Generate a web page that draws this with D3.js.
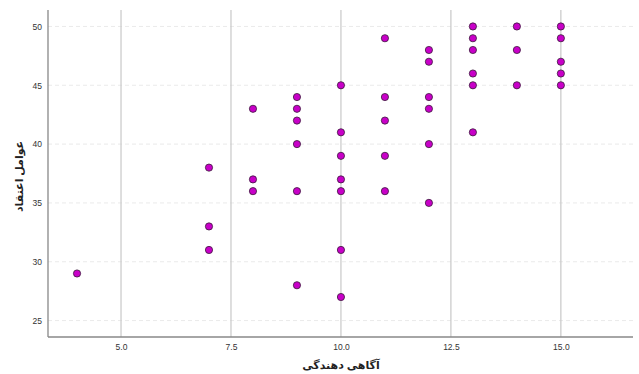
<!DOCTYPE html>
<html><head><meta charset="utf-8">
<script src="https://cdn.jsdelivr.net/npm/d3@7"></script>
<style>body{margin:0;background:#fff}svg{display:block}</style>
</head><body><svg id="c" width="639" height="374"></svg>
<script>
const xVals = [4, 7,7,7, 8,8,8, 9,9,9,9,9,9, 10,10,10,10,10,10,10, 11,11,11,11,11, 12,12,12,12,12,12, 13,13,13,13,13,13, 14,14,14, 15,15,15,15,15];
const yVals = [29, 38,33,31, 43,37,36, 44,43,42,40,36,28, 45,41,39,37,36,31,27, 49,44,42,39,36, 48,47,44,43,40,35, 50,49,48,46,45,41, 50,48,45, 50,49,47,46,45];
const xTicks = [5.0, 7.5, 10.0, 12.5, 15.0];
const yTicks = [25, 30, 35, 40, 45, 50];
const xTitle = "آگاهی دهندگی";
const yTitle = "عوامل اعتقاد";

const svg = d3.select("#c");
const L = 48, R = 633, T = 10, B = 337;
const x = d3.scaleLinear().domain([3.34, 16.64]).range([L, R]);
const y = d3.scaleLinear().domain([23.6, 51.4]).range([B, T]);

svg.append("g").selectAll("line").data(yTicks).join("line")
  .attr("x1", L).attr("x2", R).attr("y1", d => y(d)).attr("y2", d => y(d))
  .attr("stroke", "#e4e4e4").attr("stroke-width", 0.8).attr("stroke-dasharray", "4,3");
svg.append("g").selectAll("line").data(xTicks).join("line")
  .attr("x1", d => x(d)).attr("x2", d => x(d)).attr("y1", T).attr("y2", B)
  .attr("stroke", "#c8c8c8").attr("stroke-width", 1.2);

const xa = svg.append("g").attr("transform", `translate(0,${B})`)
  .call(d3.axisBottom(x).tickValues(xTicks).tickFormat(d3.format(".1f")).tickSize(0).tickPadding(7));
const ya = svg.append("g").attr("transform", `translate(${L},0)`)
  .call(d3.axisLeft(y).tickValues(yTicks).tickSize(0).tickPadding(6));
[xa, ya].forEach(a => {
  a.select(".domain").attr("stroke", "#888").attr("stroke-width", 1.3);
  a.selectAll("text").attr("fill", "#333").style("font", "8.5px 'Liberation Sans', Arial, sans-serif");
});
ya.select(".domain").attr("d", `M0,${T}V${B}`);
xa.select(".domain").attr("d", `M${L},0H${R}`);

svg.append("g").selectAll("circle").data(xVals.map((v, i) => [v, yVals[i]])).join("circle")
  .attr("cx", d => x(d[0])).attr("cy", d => y(d[1])).attr("r", 3.6)
  .attr("fill", "#c800c8").attr("stroke", "#3a1a3a").attr("stroke-width", 0.8);

svg.append("text").attr("x", x(10)).attr("y", 369).attr("text-anchor", "middle")
  .attr("fill", "#222").style("font", "bold 11px 'Noto Sans', 'DejaVu Sans', sans-serif").text(xTitle);
svg.append("text").attr("transform", `translate(23,${(T + B) / 2 + 3}) rotate(-90)`).attr("text-anchor", "middle")
  .attr("fill", "#222").style("font", "bold 11px 'Noto Sans', 'DejaVu Sans', sans-serif").text(yTitle);
</script></body></html>
